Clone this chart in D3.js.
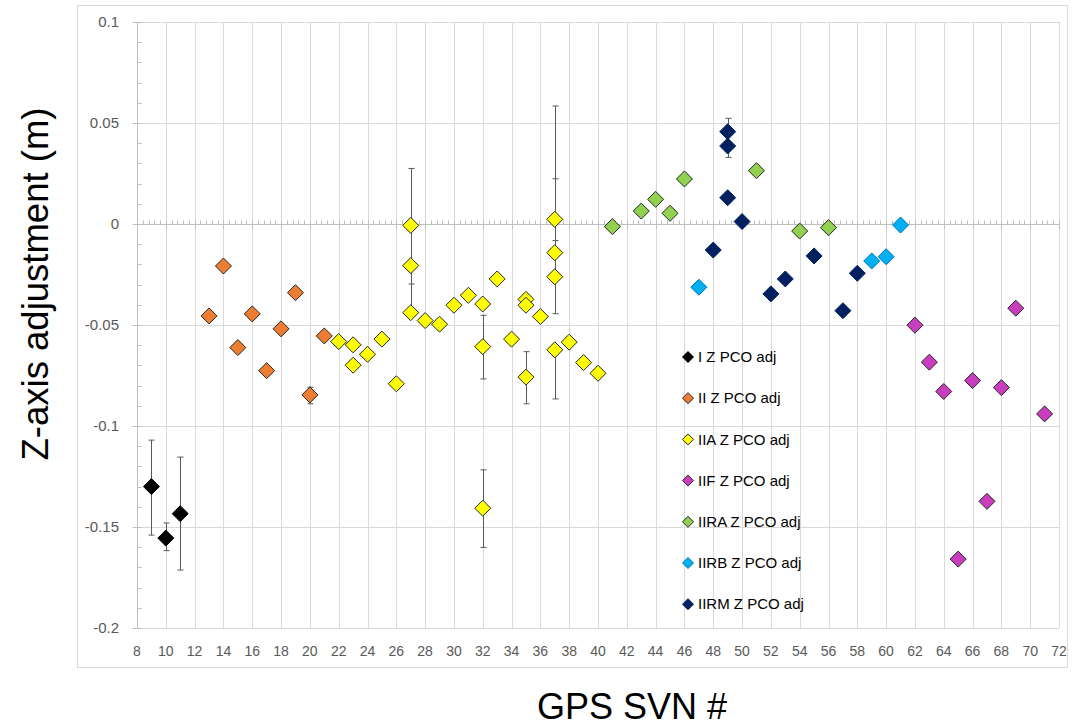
<!DOCTYPE html>
<html>
<head>
<meta charset="utf-8">
<script src="https://cdn.jsdelivr.net/npm/d3@7"></script>
<style>
    body { margin: 0; background: #fff; }
    svg { display: block; font-family: "Liberation Sans", Arial, sans-serif; }
</style>
</head>
<body>
<svg id="chart" width="1073" height="726"></svg>
<script>
/*********************************** data ***********************************/
// one row per point: [svn, z adj, error low, error high] (null = no bar end)
let svnI = [9, 10, 11]
let zI = [-0.130, -0.1555, -0.1434]
let loI = [-0.154, -0.1617, -0.1713]
let hiI = [-0.107, -0.148, -0.1154]

let svnII = [13, 14, 15, 16, 17, 18, 19, 20, 21]
let zII = [-0.0455, -0.0208, -0.0612, -0.0445, -0.0726, -0.0519, -0.034, -0.0846, -0.0554]
let loII = [null, null, null, null, null, null, null, -0.089, null]
let hiII = [null, null, null, null, null, null, null, -0.0808, null]

let svnIIA = [22, 23, 23, 24, 25, 26, 27, 27, 27, 28, 29, 30, 31, 32, 32, 32, 33, 34, 35, 35, 35, 36, 37, 37, 37, 37, 38, 39, 40]
let zIIA = [-0.0582, -0.0598, -0.0699, -0.0645, -0.057, -0.0791, -0.0007, -0.0206, -0.0439, -0.0478, -0.0496, -0.0402, -0.0353,
    -0.0396, -0.0607, -0.1407, -0.0272, -0.057, -0.0373, -0.0402, -0.0758, -0.0458, 0.0023, -0.0142, -0.0261, -0.0623,
    -0.0585, -0.0686, -0.0739]
let loIIA = [null, null, null, null, null, null, -0.0297, null, null, null, null, null, null,
    null, -0.0767, -0.1601, null, null, null, null, -0.089, null, -0.0082, -0.0444, null, -0.0866,
    null, null, null]
let hiIIA = [null, null, null, null, null, null, 0.0275, null, -0.0206, null, null, null, null,
    null, -0.0452, -0.1217, null, null, null, null, -0.0632, null, 0.0584, 0.0224, null, null,
    null, null, null]

let svnIIF = [62, 63, 64, 65, 66, 67, 68, 69, 71]
let zIIF = [-0.0501, -0.0684, -0.0829, -0.1659, -0.0775, -0.1373, -0.081, -0.0417, -0.094]

let svnIIRA = [41, 43, 44, 45, 46, 51, 54, 56]
let zIIRA = [-0.0013, 0.0064, 0.0122, 0.0053, 0.0223, 0.0264, -0.0035, -0.0018]

let svnIIRB = [47, 59, 60, 61]
let zIIRB = [-0.0313, -0.0183, -0.0162, -0.0005]

let svnIIRM = [48, 49, 49, 49, 50, 52, 53, 55, 57, 58]
let zIIRM = [-0.0129, 0.0457, 0.0386, 0.013, 0.0012, -0.0346, -0.0272, -0.0158, -0.0429, -0.0244]
let loIIRM = [null, null, 0.033, null, null, null, null, null, null, null]
let hiIIRM = [null, 0.0523, null, null, null, null, null, null, null, null]

let xTicks = d3.range(8, 73, 2)
let yTicks = [-0.2, -0.15, -0.1, -0.05, 0, 0.05, 0.1]
let yTickLabels = ["-0.2", "-0.15", "-0.1", "-0.05", "0", "0.05", "0.1"]

let series = [
    { name: "I Z PCO adj", svn: svnI, z: zI, lo: loI, hi: hiI, fill: "#000000", stroke: "#000000" },
    { name: "II Z PCO adj", svn: svnII, z: zII, lo: loII, hi: hiII, fill: "#ED7D31", stroke: "#262626" },
    { name: "IIA Z PCO adj", svn: svnIIA, z: zIIA, lo: loIIA, hi: hiIIA, fill: "#FFFF00", stroke: "#262626" },
    { name: "IIF Z PCO adj", svn: svnIIF, z: zIIF, fill: "#C93DBF", stroke: "#262626" },
    { name: "IIRA Z PCO adj", svn: svnIIRA, z: zIIRA, fill: "#92D050", stroke: "#262626" },
    { name: "IIRB Z PCO adj", svn: svnIIRB, z: zIIRB, fill: "#00B0F0", stroke: "#0070C0" },
    { name: "IIRM Z PCO adj", svn: svnIIRM, z: zIIRM, lo: loIIRM, hi: hiIIRM, fill: "#002060", stroke: "#002060" },
]

/*********************************** layout ***********************************/
const margin = { top: 22, right: 14, bottom: 98, left: 137 }
const width = 1073, height = 726
const svg = d3.select("#chart")

let xScale = d3.scaleLinear()
    .domain([8, 72])
    .range([margin.left, width - margin.right])
let yScale = d3.scaleLinear()
    .domain([-0.2, 0.1])
    .range([height - margin.bottom, margin.top])

const diamond = (cx, cy, r) => `M${cx},${cy - r}L${cx + r},${cy}L${cx},${cy + r}L${cx - r},${cy}Z`

// chart border
svg.append("rect")
    .attr("x", 77.5).attr("y", 5.5)
    .attr("width", 990).attr("height", 662)
    .attr("fill", "none")
    .attr("stroke", "#d9d9d9")

// gridlines
svg.append("g")
    .selectAll("line")
    .data(xTicks.filter(d => d > 8))
    .enter()
    .append("line")
    .attr("x1", d => Math.round(xScale(d)) + 0.5)
    .attr("x2", d => Math.round(xScale(d)) + 0.5)
    .attr("y1", yScale(0.1))
    .attr("y2", yScale(-0.2))
    .attr("stroke", "#d9d9d9")
svg.append("g")
    .selectAll("line")
    .data(yTicks.filter(d => d != 0))
    .enter()
    .append("line")
    .attr("x1", xScale(8))
    .attr("x2", xScale(72))
    .attr("y1", d => Math.round(yScale(d)) + 0.5)
    .attr("y2", d => Math.round(yScale(d)) + 0.5)
    .attr("stroke", "#d9d9d9")

// y axis with minor ticks inside, major outside
let yAxisX = Math.round(xScale(8)) + 0.5
let yAxis = svg.append("g")
yAxis.append("line")
    .attr("x1", yAxisX).attr("x2", yAxisX)
    .attr("y1", yScale(0.1)).attr("y2", yScale(-0.2))
    .attr("stroke", "#bfbfbf")
yAxis.selectAll(".minorY")
    .data(d3.range(-20, 11).map(d => d / 100))
    .enter()
    .append("line")
    .attr("x1", yAxisX).attr("x2", yAxisX + 4)
    .attr("y1", d => Math.round(yScale(d)) + 0.5)
    .attr("y2", d => Math.round(yScale(d)) + 0.5)
    .attr("stroke", "#bfbfbf")
yAxis.selectAll(".majorY")
    .data(yTicks)
    .enter()
    .append("line")
    .attr("x1", yAxisX - 5).attr("x2", yAxisX)
    .attr("y1", d => Math.round(yScale(d)) + 0.5)
    .attr("y2", d => Math.round(yScale(d)) + 0.5)
    .attr("stroke", "#bfbfbf")
yAxis.selectAll("text")
    .data(yTicks)
    .enter()
    .append("text")
    .attr("x", 119)
    .attr("y", d => yScale(d))
    .attr("dy", "0.35em")
    .attr("text-anchor", "end")
    .attr("font-size", 15)
    .attr("fill", "#595959")
    .text((d, i) => yTickLabels[i])

// x axis line sits at z = 0
let xAxisY = Math.round(yScale(0)) + 0.5
let xAxis = svg.append("g")
xAxis.append("line")
    .attr("x1", xScale(8)).attr("x2", xScale(72))
    .attr("y1", xAxisY).attr("y2", xAxisY)
    .attr("stroke", "#bfbfbf")
xAxis.selectAll(".minorX")
    .data(d3.range(8, 72.01, 0.4))
    .enter()
    .append("line")
    .attr("x1", d => Math.round(xScale(d)) + 0.5)
    .attr("x2", d => Math.round(xScale(d)) + 0.5)
    .attr("y1", xAxisY - 4).attr("y2", xAxisY)
    .attr("stroke", "#bfbfbf")
xAxis.selectAll(".majorX")
    .data(xTicks)
    .enter()
    .append("line")
    .attr("x1", d => Math.round(xScale(d)) + 0.5)
    .attr("x2", d => Math.round(xScale(d)) + 0.5)
    .attr("y1", xAxisY).attr("y2", xAxisY + 5)
    .attr("stroke", "#bfbfbf")
xAxis.selectAll("text")
    .data(xTicks)
    .enter()
    .append("text")
    .attr("x", d => xScale(d))
    .attr("y", 651)
    .attr("dy", "0.35em")
    .attr("text-anchor", "middle")
    .attr("font-size", 14)
    .attr("fill", "#595959")
    .text(d => d)

// axis titles
svg.append("text")
    .attr("x", 632)
    .attr("y", 719)
    .attr("text-anchor", "middle")
    .attr("font-size", 36)
    .attr("fill", "#000")
    .text("GPS SVN #")
svg.append("text")
    .attr("transform", "translate(48,284) rotate(-90)")
    .attr("text-anchor", "middle")
    .attr("font-size", 36.5)
    .attr("fill", "#000")
    .text("Z-axis adjustment (m)")

/*********************************** marks ***********************************/
series.forEach((s, k) => {
    let g = svg.append("g").attr("class", "series" + k)
    let pts = s.svn.map((v, i) => ({ svn: v, z: s.z[i], lo: s.lo ? s.lo[i] : null, hi: s.hi ? s.hi[i] : null }))
    let withErr = pts.filter(d => d.lo != null || d.hi != null)

    // error bars go behind the markers
    withErr.forEach(d => {
        let cx = Math.round(xScale(d.svn)) + 0.5
        let top = yScale(d.hi != null ? d.hi : d.z)
        let bottom = yScale(d.lo != null ? d.lo : d.z)
        g.append("line")
            .attr("x1", cx).attr("x2", cx)
            .attr("y1", top).attr("y2", bottom)
            .attr("stroke", "#595959")
        if (d.hi != null) {
            g.append("line")
                .attr("x1", cx - 3).attr("x2", cx + 3)
                .attr("y1", top).attr("y2", top)
                .attr("stroke", "#595959")
        }
        if (d.lo != null) {
            g.append("line")
                .attr("x1", cx - 3).attr("x2", cx + 3)
                .attr("y1", bottom).attr("y2", bottom)
                .attr("stroke", "#595959")
        }
    })

    g.selectAll("path")
        .data(pts)
        .enter()
        .append("path")
        .attr("d", d => diamond(xScale(d.svn), yScale(d.z), 8))
        .attr("fill", s.fill)
        .attr("stroke", s.stroke)
        .attr("stroke-width", 1)
})

/*********************************** legend ***********************************/
let legend = svg.append("g")
    .selectAll("g")
    .data(series)
    .enter()
    .append("g")
    .attr("transform", (d, i) => "translate(688," + (357 + i * 41.2) + ")")
legend.append("path")
    .attr("d", diamond(0, 0, 5.5))
    .attr("fill", d => d.fill)
    .attr("stroke", d => d.stroke)
legend.append("text")
    .attr("x", 10)
    .attr("dy", "0.35em")
    .attr("font-size", 15)
    .attr("fill", "#000")
    .text(d => d.name)
</script>
</body>
</html>
